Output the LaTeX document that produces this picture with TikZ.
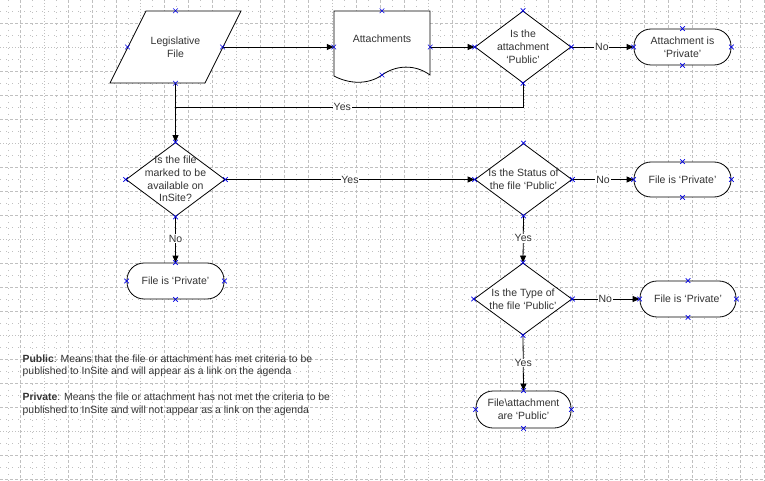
\documentclass[tikz,border=0pt]{standalone}
\usepackage{fontspec}
\setmainfont{Liberation Sans}
\usetikzlibrary{shapes.geometric,arrows.meta,calc}
\definecolor{gridc}{RGB}{192,192,192}
\definecolor{txtc}{RGB}{51,51,51}
\definecolor{xmc}{RGB}{0,0,230}
\newcommand\xmk[1]{\draw[xmark] ($(#1)+(-2.3,-2.3)$) -- ($(#1)+(2.3,2.3)$) ($(#1)+(-2.3,2.3)$) -- ($(#1)+(2.3,-2.3)$);}
\begin{document}
\begin{tikzpicture}[x=1pt,y=-1pt,
  gdash/.style={gridc, line width=0.7pt, dash pattern=on 3pt off 2pt},
  gdot/.style={gridc, line width=0.7pt, dash pattern=on 1pt off 2pt},
  gminor/.style={gridc, line width=0.7pt, dash pattern=on 1pt off 5pt},
  outline/.style={draw=black, line width=0.8pt},
  txt/.style={font=\fontsize{10.5}{12.8}\selectfont, text=txtc, align=center, inner sep=0pt},
  dia/.style={diamond, outline, inner sep=0pt, fill=white},
  term/.style={rectangle, outline, rounded corners=17pt, inner sep=0pt, fill=white,
    font=\fontsize{10.5}{12.8}\selectfont, text=txtc, align=center},
  conn/.style={draw=black, line width=0.8pt},
  arr/.style={conn, -{Triangle[length=7pt,width=6pt]}},
  lab/.style={fill=white, inner sep=0.8pt, font=\fontsize{10.5}{12.8}\selectfont, text=txtc},
  legend/.style={font=\fontsize{10.4}{12.5}\selectfont, text=txtc, align=left, inner sep=0pt},
  xmark/.style={draw=xmc, line width=0.6pt}
]
\useasboundingbox (0,0) rectangle (765,481);
\fill[white] (0,0) rectangle (765,481);
% grid
\foreach \k in {0,...,31}{
  \draw[gminor] (8+24*\k,0) -- (8+24*\k,481);
}
\foreach \k in {0,...,19}{
  \draw[gminor] (0,11+24*\k) -- (765,11+24*\k);
}
\foreach \k in {0,...,31}{
  \pgfmathtruncatemacro\m{mod(\k,4)}
  \ifnum\m=1
    \draw[gdot] (20+24*\k,0) -- (20+24*\k,481);
  \else
    \draw[gdash] (20+24*\k,0) -- (20+24*\k,481);
  \fi
}
\foreach \k in {0,...,19}{
  \pgfmathtruncatemacro\m{mod(\k,4)}
  \ifnum\m=1
    \draw[gdot] (0,23+24*\k) -- (765,23+24*\k);
  \else
    \draw[gdash] (0,23+24*\k) -- (765,23+24*\k);
  \fi
}

% Legislative File (parallelogram)
\draw[outline, fill=white] (146,11) -- (241,11) -- (205,83) -- (110,83) -- cycle;
\node[txt, minimum width=131pt, minimum height=72pt] (lf) at (175.5,47) {Legislative\\File};
\coordinate (lfw) at (127.5,47);
\coordinate (lfe) at (222.5,47);

% Attachments (document)
\draw[outline, fill=white] (334,11) -- (430,11) -- (430,75)
  .. controls (415,64) and (396,65) .. (382,75)
  .. controls (368,85) and (349,84) .. (334,76) -- cycle;
\node[inner sep=0pt, minimum width=96pt, minimum height=72pt] (att) at (382,47) {};
\node[txt] (attt) at (382,39) {Attachments};
\coordinate (attb) at (382,75);

% decisions
\node[dia, minimum width=96pt, minimum height=72pt] (d1) at (523,47) {};
\node[txt] at (d1) {Is the\\attachment\\‘Public’};
\node[dia, minimum width=99pt, minimum height=74pt] (d2) at (175.5,179.5) {};
\node[txt, font=\fontsize{10.5}{12.6}\selectfont] at (175.5,179) {Is the file\\marked to be\\available on\\InSite?};
\node[dia, minimum width=97pt, minimum height=72pt] (d3) at (523.5,179.5) {};
\node[txt] at (523.5,179) {Is the Status of\\the file ‘Public’};
\node[dia, minimum width=98pt, minimum height=72pt] (d4) at (523,299) {};
\node[txt] at (523,299) {Is the Type of\\the file ‘Public’};

% terminators
\node[term, minimum width=97pt, minimum height=36pt] (t1) at (682.5,47) {Attachment is\\‘Private’};
\node[term, minimum width=97pt, minimum height=36pt] (t2) at (175.5,281) {File is ‘Private’};
\node[term, minimum width=97pt, minimum height=35pt] (t3) at (682.5,179.5) {File is ‘Private’};
\node[term, minimum width=96pt, minimum height=36pt] (t4) at (688,299) {File is ‘Private’};
\node[term, minimum width=95pt, minimum height=37pt] (t5) at (523.5,409.5) {File\textbackslash attachment\\are ‘Public’};

% connectors
\coordinate (j) at ($(lf.south)+(0,24)$);
\draw[arr] (lfe) -- (att.west);
\draw[arr] (att.east) -- (d1.west);
\draw[arr] (d1.east) -- node[lab, pos=0.49]{No} (t1.west);
\draw[conn] (d1.south) |- node[lab, pos=0.76]{Yes} (j);
\draw[arr] (lf.south) -- (d2.north);
\draw[arr] (d2.east) -- node[lab, pos=0.5]{Yes} (d3.west);
\draw[arr] (d2.south) -- node[lab, pos=0.48]{No} (t2.north);
\draw[arr] (d3.east) -- node[lab, pos=0.5]{No} (t3.west);
\draw[arr] (d3.south) -- node[lab, pos=0.48]{Yes} (d4.north);
\draw[arr] (d4.east) -- node[lab, pos=0.49]{No} (t4.west);
\draw[arr] (d4.south) -- node[lab, pos=0.5]{Yes} (t5.north);

% connection point marks
\xmk{lf.north}\xmk{lf.south}\xmk{lfw}\xmk{lfe}
\xmk{att.north}\xmk{att.west}\xmk{att.east}\xmk{attb}
\foreach \n in {d1,d2,d3,d4,t1,t2,t3,t4,t5}{
  \xmk{\n.north}\xmk{\n.south}\xmk{\n.east}\xmk{\n.west}
}

% legend
\node[legend, anchor=west] (leg1) at (22.5,366) {\textbf{Public}: Means that the file or attachment has met criteria to be\\published to InSite and will appear as a link on the agenda};
\node[legend, anchor=west] (leg2) at (22.5,404.5) {\textbf{Private}: Means the file or attachment has not met the criteria to be\\published to InSite and will not appear as a link on the agenda};
\end{tikzpicture}
\end{document}
